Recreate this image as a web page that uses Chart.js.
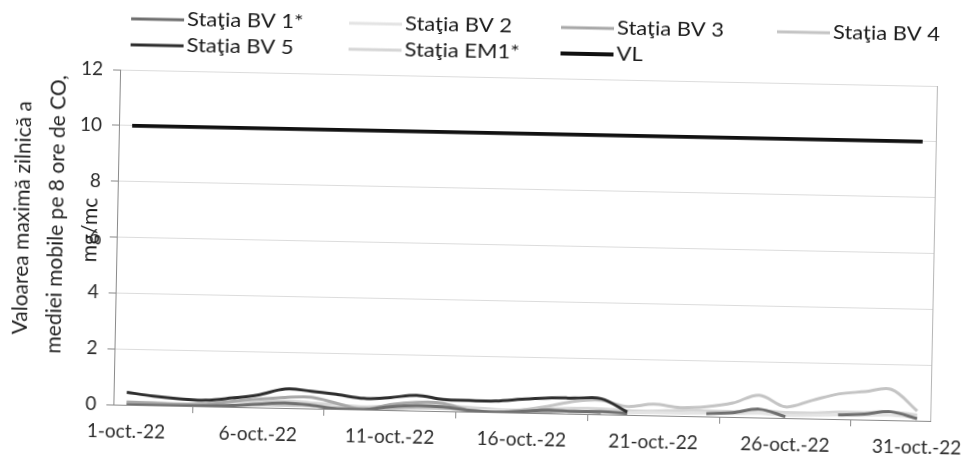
<!DOCTYPE html>
<html><head><meta charset="utf-8">
<script src="https://cdn.jsdelivr.net/npm/chart.js@4.4.0/dist/chart.umd.min.js"></script>
<style>
html,body{margin:0;padding:0;background:#fff;overflow:hidden;width:974px;height:455px;}
#wrap{position:relative;width:974px;height:455px;transform:rotate(1.15deg);transform-origin:50% 50%;}
canvas{display:block;}
</style></head><body>
<div id="wrap"><canvas id="c" width="974" height="455"></canvas></div>
<script>
// ---- data ----
const categories = ["1-oct.-22","2-oct.-22","3-oct.-22","4-oct.-22","5-oct.-22","6-oct.-22","7-oct.-22","8-oct.-22","9-oct.-22","10-oct.-22",
  "11-oct.-22","12-oct.-22","13-oct.-22","14-oct.-22","15-oct.-22","16-oct.-22","17-oct.-22","18-oct.-22","19-oct.-22","20-oct.-22",
  "21-oct.-22","22-oct.-22","23-oct.-22","24-oct.-22","25-oct.-22","26-oct.-22","27-oct.-22","28-oct.-22","29-oct.-22","30-oct.-22","31-oct.-22"];
const yTicks = [0, 2, 4, 6, 8, 10, 12];
const seriesNames = ["Staţia BV 1*", "Staţia BV 2", "Staţia BV 3", "Staţia BV 4", "Staţia BV 5", "Staţia EM1*", "VL"];
const bv1 = [0.0,0.0,0.0,0.02,0.05,0.12,0.18,0.12,0.0,0.0,0.12,0.18,0.15,0.05,0.0,0.05,0.12,0.08,0.1,0.05,null,null,0.1,0.15,0.3,0.05,null,0.15,0.2,0.3,0.07];
const bv2 = [0.05,0.05,0.05,0.05,0.08,0.1,0.12,0.1,0.08,0.05,0.08,0.1,0.1,0.08,0.05,0.05,0.08,0.1,0.1,0.08,0.1,0.1,0.12,0.12,0.15,0.1,0.12,0.15,0.15,0.18,0.1];
const bv3 = [0.1,0.08,0.05,0.08,0.2,0.3,0.38,0.4,0.2,0.0,0.2,0.3,0.28,0.05,0.0,0.0,0.05,0.1,0.05,null,null,null,null,null,null,null,null,null,null,null,null];
const bv4 = [0.05,0.05,0.05,0.05,0.05,0.1,0.1,0.1,0.05,0.05,0.05,0.1,0.1,0.05,0.0,0.1,0.25,0.45,0.5,0.3,0.4,0.3,0.35,0.5,0.8,0.4,0.65,0.9,1.0,1.1,0.35];
const bv5 = [0.45,0.33,0.25,0.22,0.32,0.45,0.68,0.62,0.52,0.4,0.45,0.55,0.42,0.4,0.4,0.48,0.55,0.56,0.56,0.1,null,null,null,null,null,null,null,null,null,null,null];
const em1 = [0.1,0.1,0.08,0.1,0.15,0.2,0.25,0.2,0.15,0.1,0.15,0.2,0.2,0.15,0.1,0.1,0.15,0.2,0.2,0.15,0.15,0.2,0.2,0.2,0.25,0.2,0.2,0.25,0.25,0.3,0.2];
const vl = [10,10,10,10,10,10,10,10,10,10,10,10,10,10,10,10,10,10,10,10,10,10,10,10,10,10,10,10,10,10,10];

// ---- styles ----
const seriesValues = [bv1, bv2, bv3, bv4, bv5, em1, vl];
const seriesColors = ["#6f6f6f", "#e4e4e4", "#a8a8a8", "#c4c4c4", "#2e2e2e", "#d6d6d6", "#111111"];
const seriesWidths = [3, 3, 3, 3, 3, 3, 3.8];
const legendSlots = [[0,0],[1,0],[2,0],[3,0],[0,1],[1,1],[2,1]];
const legendColX = [127, 345, 557, 773];
const legendRowY = [26, 52];
const FONT = "Lato, 'Open Sans', sans-serif";

const datasets = seriesNames.map((n, i) => ({
  label: n,
  data: seriesValues[i],
  borderColor: seriesColors[i],
  backgroundColor: seriesColors[i],
  borderWidth: seriesWidths[i],
  pointRadius: 0,
  tension: 0.35,
  spanGaps: false,
  fill: false
}));
datasets.forEach((d, i) => { d.order = [3,6,4,5,2,7,1][i]; });

const decor = {
  id: 'decor',
  beforeDatasetsDraw(chart) {
    const {ctx, chartArea: a} = chart;
    ctx.save();
    ctx.strokeStyle = '#b5b5b5';
    ctx.lineWidth = 1;
    ctx.beginPath();
    ctx.moveTo(a.right + 0.5, a.top);
    ctx.lineTo(a.right + 0.5, a.bottom);
    ctx.stroke();
    ctx.restore();
  },
  afterDraw(chart) {
    const {ctx} = chart;
    ctx.save();
    // legend
    ctx.font = "20px " + FONT;
    ctx.textBaseline = 'middle';
    ctx.textAlign = 'left';
    chart.data.datasets.forEach((d, i) => {
      const [c, r] = legendSlots[i];
      const x = legendColX[c], y = legendRowY[r];
      ctx.strokeStyle = d.borderColor;
      ctx.lineWidth = d.borderWidth;
      ctx.beginPath();
      ctx.moveTo(x, y);
      ctx.lineTo(x + 53, y);
      ctx.stroke();
      ctx.fillStyle = '#1a1a1a';
      ctx.save();
      ctx.translate(x + 56, y);
      ctx.scale(1.1, 1);
      ctx.fillText(d.label, 0, 0);
      ctx.restore();
    });
    // y-axis title
    ctx.fillStyle = '#1f1f1f';
    ctx.font = "21px " + FONT;
    ctx.textAlign = 'center';
    const lines = [["Valoarea maximă zilnică a", 22, 227], ["mediei mobile pe 8 ore de CO,", 56, 223], ["mg/mc", 90, 238]];
    lines.forEach(([t, x, y]) => {
      ctx.save();
      ctx.translate(x, y);
      ctx.rotate(-Math.PI / 2);
      ctx.fillText(t, 0, 0);
      ctx.restore();
    });
    ctx.restore();
  }
};

new Chart(document.getElementById('c'), {
  type: 'line',
  data: { labels: categories, datasets },
  options: {
    responsive: false,
    animation: false,
    devicePixelRatio: 1,
    layout: { padding: { top: 77, right: 30, bottom: 0, left: 0 } },
    plugins: { legend: { display: false }, tooltip: { enabled: false } },
    scales: {
      x: {
        offset: true,
        afterFit(s) { s.height = 43; },
        grid: { offset: true, drawOnChartArea: false, drawTicks: true, tickLength: 7, color: '#8a8a8a' },
        border: { display: true, color: '#8a8a8a', width: 1 },
        ticks: {
          autoSkip: false, maxRotation: 0, minRotation: 0, padding: 8,
          color: '#2a2a2a', font: { family: FONT, size: 19 },
          callback(v, i) { return i % 5 === 0 ? categories[i] : null; }
        }
      },
      y: {
        min: yTicks[0], max: yTicks[yTicks.length - 1],
        afterFit(s) { s.width = 117; },
        afterBuildTicks(s) { s.ticks = yTicks.map(v => ({ value: v })); },
        grid: { color: '#dcdcdc', tickColor: '#8a8a8a', tickLength: 7, lineWidth: 1 },
        border: { display: true, color: '#8a8a8a', width: 1 },
        ticks: { padding: 10, color: '#2a2a2a', font: { family: FONT, size: 19 } }
      }
    }
  },
  plugins: [decor]
});
</script>
</body></html>
